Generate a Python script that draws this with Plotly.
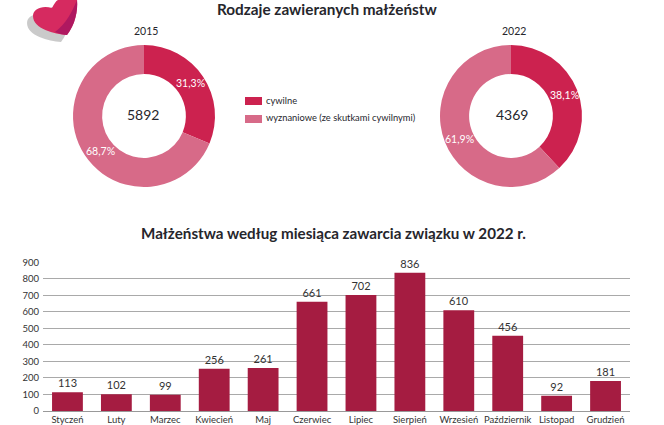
import plotly.graph_objects as go

W, H = 664, 425

pie_labels = ['cywilne', 'wyznaniowe (ze skutkami cywilnymi)']
pie_colors = ['#cc224f', '#d76a88']
values_2015 = [31.3, 68.7]
values_2022 = [38.1, 61.9]
total_2015 = '5892'
total_2022 = '4369'

months = ['Styczeń', 'Luty', 'Marzec', 'Kwiecień', 'Maj', 'Czerwiec', 'Lipiec',
          'Sierpień', 'Wrzesień', 'Październik', 'Listopad', 'Grudzień']
marriages = [113, 102, 99, 256, 261, 661, 702, 836, 610, 456, 92, 181]
y_ticks = [0, 100, 200, 300, 400, 500, 600, 700, 800, 900]

FONT = 'Lato'


# pixel helpers, margins are 0 so paper coords map straight to the window
def px(x):
    return x / W


def py(y):
    return 1 - y / H


def pie_trace(values, cx, cy, r):
    return go.Pie(labels=pie_labels,
                  values=values,
                  hole=0.59,
                  sort=False,
                  direction='clockwise',
                  rotation=0,
                  marker=dict(colors=pie_colors, line=dict(width=0)),
                  textinfo='none',
                  showlegend=False,
                  domain=dict(x=[px(cx - r), px(cx + r)], y=[py(cy + r), py(cy - r)]))


def icon_path(start, curves, dx=0, dy=0):
    # start point, then cubic segments of three (x, y) pixel points each
    def pt(p):
        return f'{px(p[0] + dx):.4f} {py(p[1] + dy):.4f}'
    path = 'M ' + pt(start)
    for a, b, c in curves:
        path += f' C {pt(a)} {pt(b)} {pt(c)}'
    return path + ' Z'


def icon_shape(path, color, opacity=1):
    return dict(type='path', xref='paper', yref='paper', path=path, opacity=opacity,
                fillcolor=color, line=dict(width=0), layer='above')


def swatch(y, color):
    return dict(type='rect', xref='paper', yref='paper', x0=px(245), x1=px(262), y0=py(y + 4), y1=py(y - 4),
                fillcolor=color, line=dict(width=0))


def label(text, x, y, size, bold=False, color='#26262c', anchor='center'):
    return dict(text=f'<b>{text}</b>' if bold else text, x=px(x), y=py(y), xref='paper', yref='paper',
                xanchor=anchor, yanchor='middle', showarrow=False,
                font=dict(family=FONT, size=size, color=color))


def pct(v):
    return f'{v:.1f}%'.replace('.', ',')


heart_start = (33, 16)
heart_curves = [((33, 9), (42, 5), (52, 8)),
                ((54, 4), (56, 1), (58, 0)),
                ((64, 0), (71, 0), (77, 0)),
                ((78, 11), (75, 25), (67, 35)),
                ((55, 34), (33, 29), (33, 16))]
heart_tip = [((72, 12), (66, 24), (55, 32)),
             ((60, 34), (64, 35), (67, 35)),
             ((75, 25), (78, 11), (77, 0))]

bars = go.Bar(x=months,
              y=marriages,
              marker=dict(color='#a51c41', line=dict(width=0)),
              text=marriages,
              textposition='outside',
              cliponaxis=False,
              textfont=dict(family=FONT, size=11, color='#333333'),
              width=0.63,
              showlegend=False,
              xaxis='x',
              yaxis='y')

fig = go.Figure(data=[pie_trace(values_2015, 144, 116, 71),
                      pie_trace(values_2022, 511, 116, 71),
                      bars])

fig.update_layout(width=W,
                  height=H,
                  autosize=False,
                  margin=dict(l=0, r=0, t=0, b=0, pad=0, autoexpand=False),
                  paper_bgcolor='white',
                  plot_bgcolor='white',
                  font=dict(family=FONT, color='#333333'),
                  xaxis=dict(domain=[px(43), px(630)],
                             anchor='y',
                             automargin=False,
                             showgrid=False,
                             showline=True,
                             linecolor='#999999',
                             ticks='',
                             tickfont=dict(family=FONT, size=9.5, color='#333333'),
                             tickangle=0,
                             fixedrange=True),
                  yaxis=dict(domain=[py(411), py(262.3)],
                             anchor='x',
                             automargin=False,
                             range=[0, 900],
                             tickvals=y_ticks,
                             ticklabelstandoff=3,
                             showgrid=True,
                             gridcolor='#a9a9a9',
                             gridwidth=1,
                             zeroline=False,
                             ticks='',
                             tickfont=dict(family=FONT, size=9.5, color='#333333'),
                             fixedrange=True),
                  annotations=[label('Rodzaje zawieranych małżeństw', 327, 9, 15.3, True),
                               label('Małżeństwa według miesiąca zawarcia związku w 2022 r.', 333.5, 233, 15.2, True),
                               label('2015', 146, 31, 10.5),
                               label('2022', 514, 31, 10.5),
                               label(total_2015, 143, 115, 14),
                               label(total_2022, 512, 115, 14),
                               label(pct(values_2015[0]), 190, 83, 10.5, color='white'),
                               label(pct(values_2015[1]), 100, 151, 10.5, color='white'),
                               label(pct(values_2022[0]), 564, 95, 10.5, color='white'),
                               label(pct(values_2022[1]), 460, 139, 10.5, color='white'),
                               label(pie_labels[0], 264, 100, 9.3, anchor='left'),
                               label(pie_labels[1], 264, 118, 9.3, anchor='left')],
                  shapes=[icon_shape(icon_path(heart_start, heart_curves, -6, 7), '#bdbdbd', 0.8),
                          icon_shape(icon_path(heart_start, heart_curves), '#d62a60'),
                          icon_shape(icon_path((77, 0), heart_tip), '#a81560', 0.85),
                          swatch(101, pie_colors[0]),
                          swatch(119, pie_colors[1])])

# the page's default body margin would push the chart 8px down and right
fig.write_html("out.html", config=dict(displayModeBar=False),
               post_script="document.body.style.margin='0';document.body.style.overflow='hidden';")
